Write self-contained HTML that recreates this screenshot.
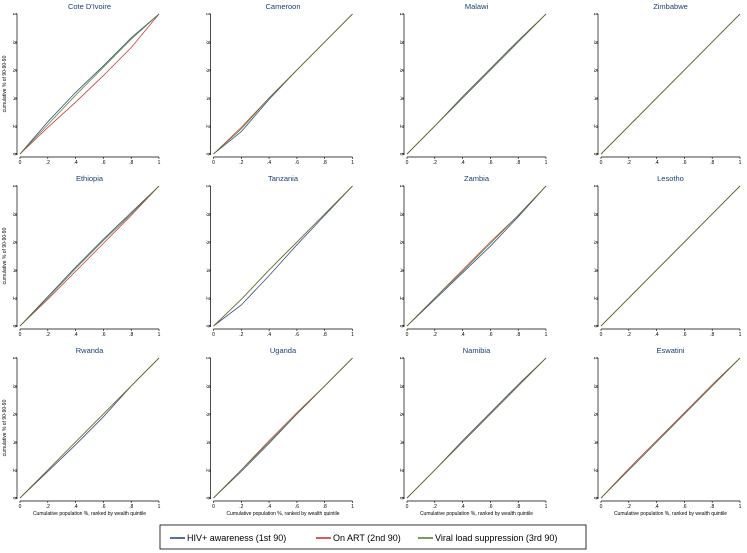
<!DOCTYPE html>
<html><head><meta charset="utf-8"><style>
html,body{margin:0;padding:0;background:#fff;}
svg{display:block;font-family:"Liberation Sans",sans-serif;}
</style></head><body>
<svg id="c" width="747" height="553" viewBox="0 0 747 553"></svg>
<script>
const countries = ["Cote D'Ivoire","Cameroon","Malawi","Zimbabwe","Ethiopia","Tanzania","Zambia","Lesotho","Rwanda","Uganda","Namibia","Eswatini"];
const xs = [0,0.2,0.4,0.6,0.8,1];
const awareness = [
 [0,0.23,0.44,0.63,0.83,1],[0,0.16,0.39,0.60,0.80,1],[0,0.20,0.41,0.61,0.81,1],[0,0.20,0.40,0.60,0.80,1],
 [0,0.21,0.42,0.62,0.81,1],[0,0.15,0.36,0.58,0.79,1],[0,0.19,0.38,0.57,0.78,1],[0,0.20,0.40,0.60,0.80,1],
 [0,0.19,0.38,0.58,0.80,1],[0,0.19,0.39,0.60,0.80,1],[0,0.20,0.41,0.61,0.81,1],[0,0.20,0.40,0.60,0.80,1]];
const onArt = [
 [0,0.19,0.37,0.56,0.76,1],[0,0.19,0.40,0.60,0.80,1],[0,0.20,0.40,0.60,0.80,1],[0,0.20,0.40,0.60,0.80,1],
 [0,0.19,0.39,0.59,0.79,1],[0,0.19,0.40,0.60,0.80,1],[0,0.20,0.40,0.60,0.79,1],[0,0.20,0.40,0.60,0.80,1],
 [0,0.20,0.40,0.60,0.80,1],[0,0.20,0.41,0.61,0.80,1],[0,0.20,0.40,0.60,0.80,1],[0,0.21,0.41,0.61,0.81,1]];
const suppression = [
 [0,0.21,0.42,0.62,0.82,1],[0,0.18,0.40,0.60,0.80,1],[0,0.20,0.40,0.60,0.80,1],[0,0.20,0.40,0.60,0.80,1],
 [0,0.20,0.41,0.61,0.80,1],[0,0.19,0.40,0.60,0.80,1],[0,0.20,0.39,0.59,0.79,1],[0,0.20,0.40,0.60,0.80,1],
 [0,0.20,0.40,0.60,0.80,1],[0,0.20,0.40,0.60,0.80,1],[0,0.20,0.40,0.60,0.80,1],[0,0.20,0.40,0.60,0.80,1]];
const tickVals = [0,0.2,0.4,0.6,0.8,1];
const tickLabels = ["0",".2",".4",".6",".8","1"];
const seriesColors = ["#1f3f7a","#c0282d","#4f7a1f"];

const svg = document.getElementById('c');
const NS = "http://www.w3.org/2000/svg";
function mk(tag, attrs, parent){const e=document.createElementNS(NS,tag);for(const k in attrs)e.setAttribute(k,attrs[k]);(parent||svg).appendChild(e);return e;}
const colX0 = [20,213.5,407,601], rowY0 = [154,326,498], W = 139, H = 140;

countries.forEach((name,i)=>{
  const r = Math.floor(i/4), c = i%4;
  const x0 = colX0[c], y0 = rowY0[r];
  const sx = v => x0 + v*W, sy = v => y0 - v*H;
  const g = mk('g',{});
  
  
  const t = mk('text',{x:x0+W/2,y:y0-H-5,'text-anchor':'middle','font-size':'7.5',fill:'#1a3f73'},g);
  t.textContent = name;
  
  
  const ya = mk('line',{x1:x0-3,y1:y0+1,x2:x0-3,y2:y0-H,stroke:'#000','stroke-width':0.7},g);
  
  
  const xa = mk('line',{x1:x0,y1:y0+3,x2:x0+W,y2:y0+3,stroke:'#000','stroke-width':0.7},g);
  
  
  tickVals.forEach((v,k)=>{
    mk('line',{x1:sx(v),y1:y0+3,x2:sx(v),y2:y0+5,stroke:'#000','stroke-width':0.6},g);
    const tx = mk('text',{x:sx(v),y:y0+10,'text-anchor':'middle','font-size':'5',fill:'#000'},g);
    tx.textContent = tickLabels[k];
    
    
    mk('line',{x1:x0-5,y1:sy(v),x2:x0-3,y2:sy(v),stroke:'#000','stroke-width':0.6},g);
    const ty = mk('text',{x:x0-7,y:sy(v),'text-anchor':'middle','font-size':'5',fill:'#000',transform:`rotate(90 ${x0-7} ${sy(v)})`},g);
    ty.textContent = tickLabels[k];
    
    
  });
  if(c===0){
    const yt = mk('text',{x:x0-14,y:y0-H/2,'text-anchor':'middle','font-size':'5',fill:'#000',transform:`rotate(-90 ${x0-14} ${y0-H/2})`},g);
    yt.textContent = "cumulative % of 90-90-90";
    
    
  }
  if(r===2){
    const xt = mk('text',{x:x0+W/2,y:y0+17,'text-anchor':'middle','font-size':'5',fill:'#000'},g);
    xt.textContent = "Cumulative population %, ranked by wealth quintile";
    
    
  }
  [awareness,onArt,suppression].forEach((s,si)=>{
    const pts = xs.map((x,k)=>sx(x)+','+sy(s[i][k])).join(' ');
    const pl = mk('polyline',{points:pts,fill:'none',stroke:seriesColors[si],'stroke-width':0.8,'stroke-opacity':0.9},g);
    
    
  });
});

const lg = mk('g',{});


mk('rect',{x:160,y:525,width:426,height:24,fill:'#fff',stroke:'#000','stroke-width':0.8},lg);
const legendLabels = ["HIV+ awareness (1st 90)","On ART (2nd 90)","Viral load suppression (3rd 90)"];
const legendX = [170,316,418];
legendLabels.forEach((l,k)=>{
  mk('line',{x1:legendX[k],y1:538,x2:legendX[k]+15,y2:538,stroke:seriesColors[k],'stroke-width':1.5},lg);
  const t = mk('text',{x:legendX[k]+17,y:541,'font-size':'9',fill:'#000'},lg);
  t.textContent = l;
  
  
});
</script>
</body></html>
